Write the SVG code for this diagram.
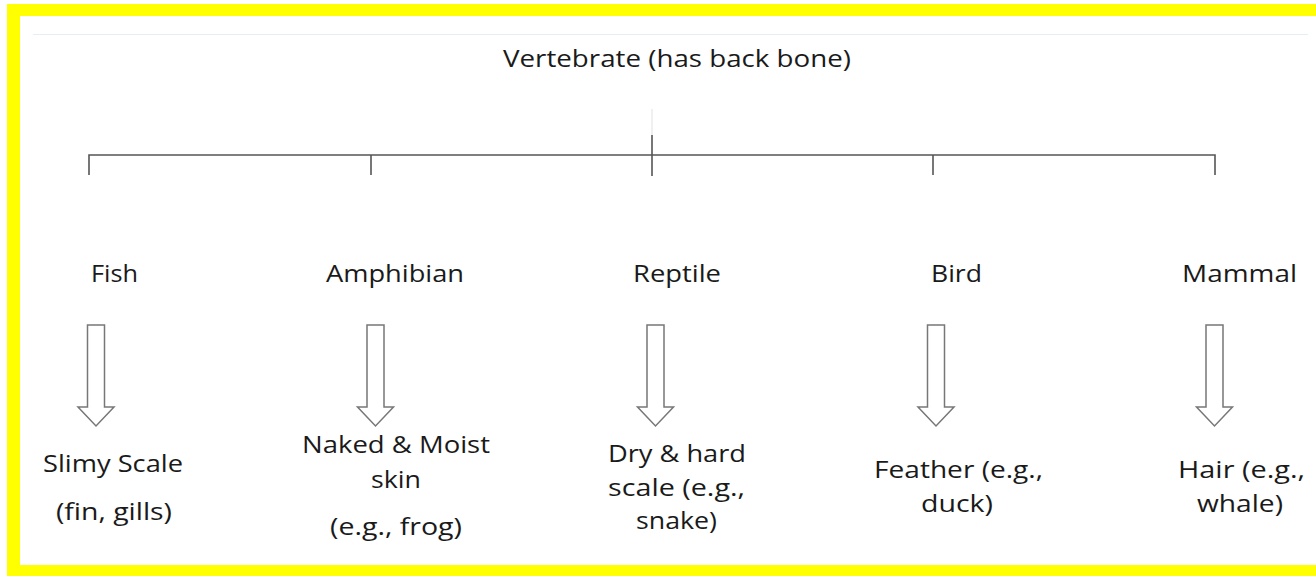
<svg xmlns="http://www.w3.org/2000/svg" width="1316" height="576" viewBox="0 0 1316 576">
  <style>
    text { font-family: "Open Sans", "Liberation Sans", sans-serif; font-size: 24px; fill: #1a1a1a; text-anchor: middle; }
    .tree { stroke: #555; stroke-width: 1.6; fill: none; }
    .faint { stroke: #ececec; stroke-width: 1.6; fill: none; }
    .block { fill: #fff; stroke: #777; stroke-width: 1.5; stroke-linejoin: miter; }
    .frame { fill: #ffff00; }
  </style>
  <defs>
    <path id="blockArrow" d="M -8.5 0 H 8.5 V 82 H 18 L 0 101 L -18 82 H -8.5 Z"/>
  </defs>
  <rect width="1316" height="576" fill="#fff"/>
  <g id="frame">
    <rect class="frame" x="7" y="4" width="1309" height="12"/>
    <rect class="frame" x="7" y="4" width="13" height="572"/>
    <rect class="frame" x="7" y="565" width="1309" height="11"/>
    <line x1="33" y1="34.5" x2="1308" y2="34.5" stroke="#e6edf6" stroke-width="1.2"/>
  </g>
  <g id="connectors">
    <line class="faint" x1="652" y1="109" x2="652" y2="135"/>
    <line class="tree" x1="652" y1="135" x2="652" y2="176"/>
    <polyline class="tree" points="89,175 89,155 1215,155 1215,175"/>
    <line class="tree" x1="371" y1="155" x2="371" y2="175"/>
    <line class="tree" x1="933" y1="155" x2="933" y2="175"/>
    <use href="#blockArrow" class="block" transform="translate(96,325)"/>
    <use href="#blockArrow" class="block" transform="translate(375.5,325)"/>
    <use href="#blockArrow" class="block" transform="translate(655.5,325)"/>
    <use href="#blockArrow" class="block" transform="translate(936,325)"/>
    <use href="#blockArrow" class="block" transform="translate(1214.5,325)"/>
  </g>
  <g id="vertebrate">
    <text x="677" y="67" textLength="348" lengthAdjust="spacingAndGlyphs">Vertebrate (has back bone)</text>
  </g>
  <g id="fish">
    <text x="114.5" y="282" textLength="47" lengthAdjust="spacingAndGlyphs">Fish</text>
  </g>
  <g id="fish-trait">
    <text x="113" y="472" textLength="140" lengthAdjust="spacingAndGlyphs">Slimy Scale</text>
    <text x="114" y="520" textLength="116" lengthAdjust="spacingAndGlyphs">(fin, gills)</text>
  </g>
  <g id="amphibian">
    <text x="395" y="282" textLength="138" lengthAdjust="spacingAndGlyphs">Amphibian</text>
  </g>
  <g id="amphibian-trait">
    <text x="396" y="453" textLength="188" lengthAdjust="spacingAndGlyphs">Naked &amp; Moist</text>
    <text x="396" y="488" textLength="50" lengthAdjust="spacingAndGlyphs">skin</text>
    <text x="396" y="535" textLength="132" lengthAdjust="spacingAndGlyphs">(e.g., frog)</text>
  </g>
  <g id="reptile">
    <text x="677" y="282" textLength="88" lengthAdjust="spacingAndGlyphs">Reptile</text>
  </g>
  <g id="reptile-trait">
    <text x="677" y="462" textLength="138" lengthAdjust="spacingAndGlyphs">Dry &amp; hard</text>
    <text x="676.5" y="496" textLength="137" lengthAdjust="spacingAndGlyphs">scale (e.g.,</text>
    <text x="676.5" y="529" textLength="81" lengthAdjust="spacingAndGlyphs">snake)</text>
  </g>
  <g id="bird">
    <text x="956.5" y="282" textLength="51" lengthAdjust="spacingAndGlyphs">Bird</text>
  </g>
  <g id="bird-trait">
    <text x="958.5" y="478" textLength="169" lengthAdjust="spacingAndGlyphs">Feather (e.g.,</text>
    <text x="957" y="512" textLength="72" lengthAdjust="spacingAndGlyphs">duck)</text>
  </g>
  <g id="mammal">
    <text x="1239.5" y="282" textLength="115" lengthAdjust="spacingAndGlyphs">Mammal</text>
  </g>
  <g id="mammal-trait">
    <text x="1241.5" y="478" textLength="127" lengthAdjust="spacingAndGlyphs">Hair (e.g.,</text>
    <text x="1240" y="512" textLength="86" lengthAdjust="spacingAndGlyphs">whale)</text>
  </g>
</svg>
